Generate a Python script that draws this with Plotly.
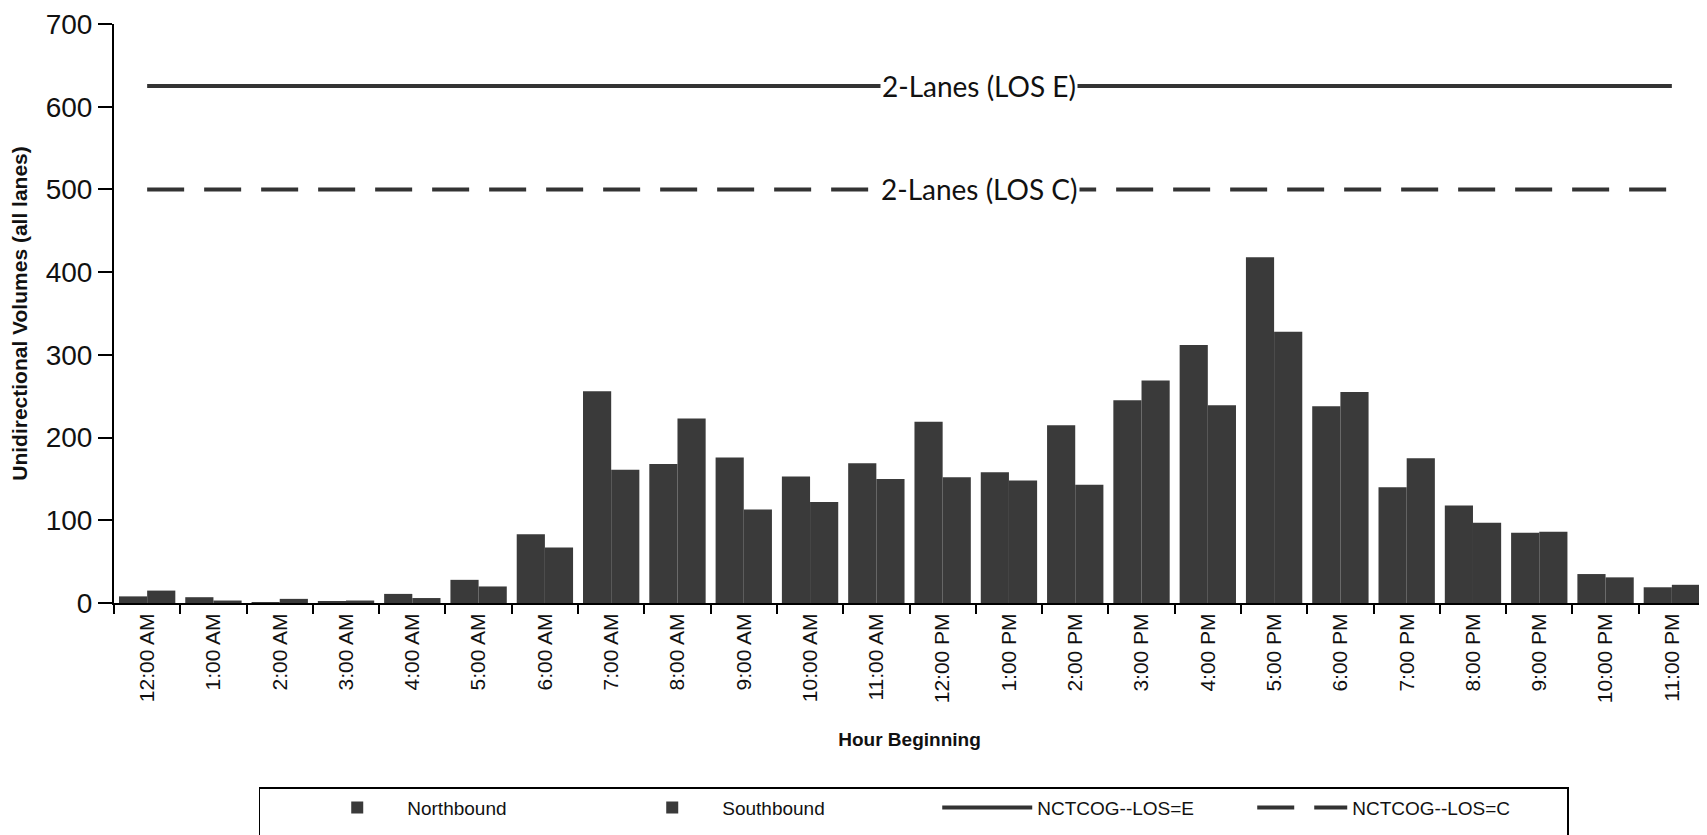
import plotly.graph_objects as go

hours = ["12:00 AM", "1:00 AM", "2:00 AM", "3:00 AM", "4:00 AM", "5:00 AM",
         "6:00 AM", "7:00 AM", "8:00 AM", "9:00 AM", "10:00 AM", "11:00 AM",
         "12:00 PM", "1:00 PM", "2:00 PM", "3:00 PM", "4:00 PM", "5:00 PM",
         "6:00 PM", "7:00 PM", "8:00 PM", "9:00 PM", "10:00 PM", "11:00 PM"]
northbound = [8, 7, 1, 2, 11, 28, 83, 256, 168, 176, 153, 169,
              219, 158, 215, 245, 312, 418, 238, 140, 118, 85, 35, 19]
southbound = [15, 3, 5, 3, 6, 20, 67, 161, 223, 113, 122, 150,
              152, 148, 143, 269, 239, 328, 255, 175, 97, 86, 31, 22]
los_e = [625] * 24
los_c = [500] * 24
y_ticks = [0, 100, 200, 300, 400, 500, 600, 700]

bar_color = "#3a3a3a"
line_color = "#333333"

fig = go.Figure()
fig.add_trace(go.Bar(x=hours, y=northbound, name="Northbound",
                     marker=dict(color=bar_color, line=dict(width=0))))
fig.add_trace(go.Bar(x=hours, y=southbound, name="Southbound",
                     marker=dict(color=bar_color, line=dict(width=0))))
fig.add_trace(go.Scatter(x=hours, y=los_e, name="NCTCOG--LOS=E", mode="lines",
                         line=dict(color=line_color, width=4)))
fig.add_trace(go.Scatter(x=hours, y=los_c, name="NCTCOG--LOS=C", mode="lines",
                         line=dict(color=line_color, width=4, dash="37px,20px")))

label_font = dict(family="Lato, Open Sans, sans-serif", size=28, color="#111")
fig.add_annotation(x=12.55, y=los_e[12], xref="x", yref="y", text="2-Lanes (LOS E)",
                   showarrow=False, bgcolor="white", font=label_font, borderpad=1)
fig.add_annotation(x=12.55, y=los_c[12], xref="x", yref="y", text="2-Lanes (LOS C)",
                   showarrow=False, bgcolor="white", font=label_font, borderpad=1)

# The page body has an 8px default margin, so the figure is sized to fit inside the window.
fig.update_layout(
    width=1699, height=827,
    margin=dict(l=106, r=2, t=16, b=232, autoexpand=False),
    paper_bgcolor="white", plot_bgcolor="white",
    barmode="group", bargap=0.15, bargroupgap=0,
    showlegend=True,
    legend=dict(
        orientation="h", x=0.091, y=-0.318, xanchor="left", yanchor="top",
        bordercolor="black", borderwidth=1.5, bgcolor="white",
        font=dict(family="Liberation Sans, Arial, sans-serif", size=19, color="#111"),
        entrywidth=210, entrywidthmode="pixels", itemwidth=90,
        traceorder="normal",
        title=dict(text="&nbsp;" * 7 + "<br>&nbsp;<br>&nbsp;", side="left",
                   font=dict(family="Liberation Sans, Arial, sans-serif", size=19)),
    ),
    font=dict(family="Liberation Sans, Arial, sans-serif", color="#111"),
)

fig.update_xaxes(
    type="category", categoryorder="array", categoryarray=hours,
    showline=True, linecolor="black", linewidth=2,
    ticks="outside", ticklen=9, tickwidth=2, tickcolor="black", tickson="boundaries",
    tickangle=-90, tickfont=dict(family="Liberation Sans, Arial, sans-serif", size=21),
    showgrid=False, zeroline=False, automargin=False,
    title=dict(text="<b>Hour Beginning</b>", standoff=30,
               font=dict(family="Liberation Sans, Arial, sans-serif", size=19)),
)
fig.update_yaxes(
    range=[0, 700], tickvals=y_ticks, ticktext=[str(v) for v in y_ticks],
    showline=True, linecolor="black", linewidth=2,
    ticks="outside", ticklen=14, tickwidth=2, tickcolor="black",
    tickfont=dict(family="Liberation Sans Narrow, Arial Narrow, Liberation Sans, sans-serif", size=28),
    showgrid=False, zeroline=False, automargin=False,
    title=dict(text="<b>Unidirectional Volumes (all lanes)</b>", standoff=18,
               font=dict(family="Liberation Sans, Arial, sans-serif", size=21)),
)

fig.write_html("out.html")
